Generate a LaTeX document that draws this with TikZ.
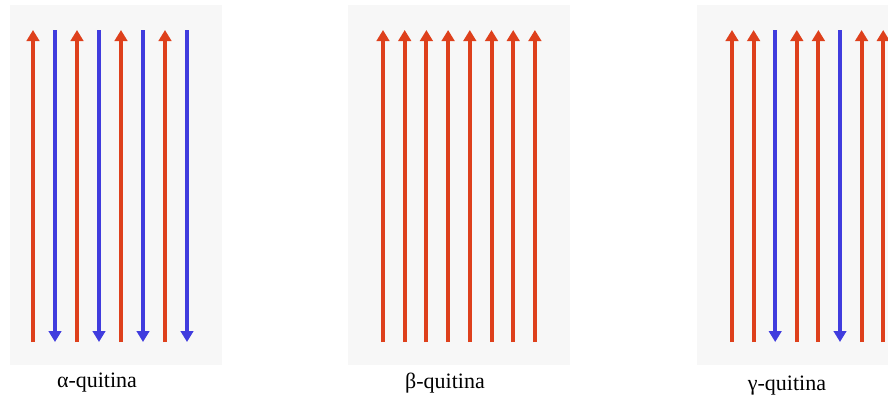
\documentclass[tikz,border=0pt]{standalone}
\usepackage{fontspec}
\setmainfont{Liberation Serif}
\usetikzlibrary{arrows.meta}

\definecolor{strandred}{RGB}{222,64,28}
\definecolor{strandblue}{RGB}{64,60,222}
\definecolor{panelgray}{RGB}{247,247,247}

\begin{document}
\begin{tikzpicture}[
    x=1pt, y=-1pt,
    >={Triangle[width=12.5pt, length=11pt]},
    panel/.style={fill=panelgray, draw=none},
    upstrand/.style={->, strandred, line width=4pt},
    downstrand/.style={->, strandblue, line width=4pt},
    lbl/.style={font=\fontsize{22}{26}\selectfont, inner sep=1pt}
  ]
  \useasboundingbox (0,0) rectangle (888,405);
  \clip (0,0) rectangle (888,405);

  % panels
  \fill[panel] (10,5) rectangle (222,365);
  \fill[panel] (348,5) rectangle (570,365);
  \fill[panel] (697,5) rectangle (895,365);

  % alpha-quitina: antiparallel
  \foreach \i/\f/\t/\s in {1/b/t/upstrand, 2/t/b/downstrand, 3/b/t/upstrand,
      4/t/b/downstrand, 5/b/t/upstrand, 6/t/b/downstrand, 7/b/t/upstrand,
      8/t/b/downstrand} {
    \coordinate (a\i t) at ({33+22*(\i-1)}, 30);
    \coordinate (a\i b) at ({33+22*(\i-1)}, 342);
    \draw[\s] (a\i\f) -- (a\i\t);
  }
  \node[lbl] (alab) at (97,383) {α-quitina};

  % beta-quitina: parallel
  \foreach \i in {1,...,8} {
    \coordinate (b\i t) at ({383+21.7*(\i-1)}, 30);
    \coordinate (b\i b) at ({383+21.7*(\i-1)}, 342);
    \draw[upstrand] (b\i b) -- (b\i t);
  }
  \node[lbl] (blab) at (445,383) {β-quitina};

  % gamma-quitina: two up, one down
  \foreach \i/\f/\t/\s in {1/b/t/upstrand, 2/b/t/upstrand, 3/t/b/downstrand,
      4/b/t/upstrand, 5/b/t/upstrand, 6/t/b/downstrand, 7/b/t/upstrand,
      8/b/t/upstrand} {
    \coordinate (c\i t) at ({732+21.6*(\i-1)}, 30);
    \coordinate (c\i b) at ({732+21.6*(\i-1)}, 342);
    \draw[\s] (c\i\f) -- (c\i\t);
  }
  \node[lbl] (clab) at (787,386) {γ-quitina};
\end{tikzpicture}
\end{document}
